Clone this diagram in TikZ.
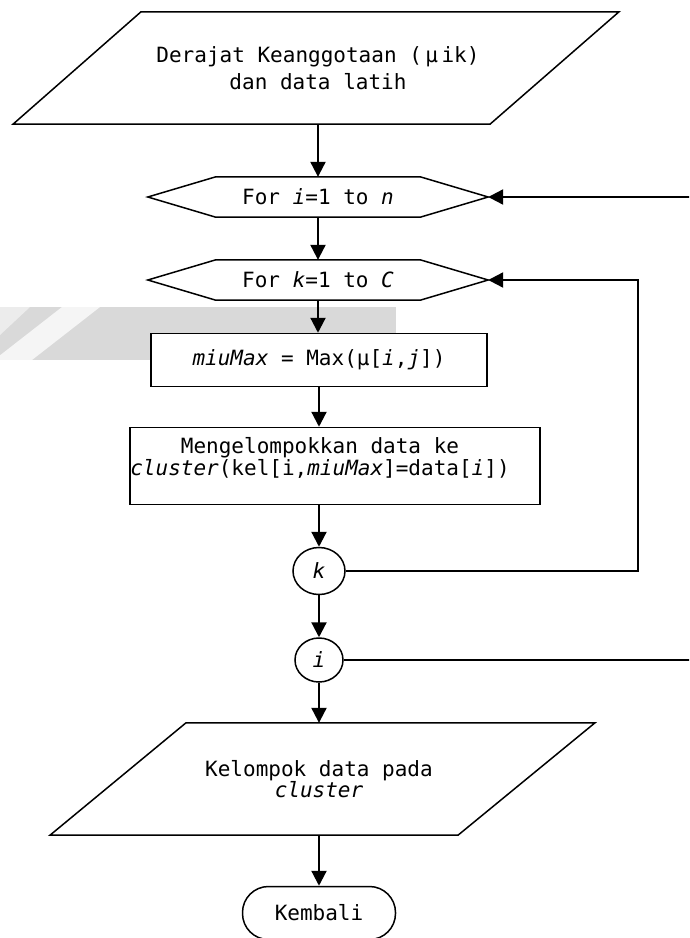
\documentclass[tikz,border=0pt]{standalone}
\usepackage{fontspec}
\setmainfont{DejaVu Sans Mono}
\usetikzlibrary{arrows.meta,calc,shapes.geometric}

\begin{document}
\begin{tikzpicture}[x=1pt,y=-1pt,
  outl/.style={draw=black,line width=1.5pt},
  txt/.style={font=\fontsize{21}{27}\selectfont,align=center,inner sep=0pt},
  tight/.style={font=\fontsize{21}{20}\selectfont,align=center,inner sep=0pt},
  conn/.style={line width=2.2pt,-{Triangle[length=15pt,width=15pt]}}
]
\useasboundingbox (0,0) rectangle (689,938);
\clip (0,0) rectangle (689,938);

% light grey band behind the first process box
\fill[black!15] (0,307) rectangle (396,360);
\fill[white,opacity=0.75] (62,307) -- (100,307) -- (32,360) -- (-6,360) -- cycle;
\fill[white,opacity=0.5] (0,307) -- (30,307) -- (0,335) -- cycle;

% input: membership degrees and training data
\node[txt,minimum height=112pt,minimum width=300pt] (p1) at (318,68)
  {Derajat Keanggotaan (\,μ\,ik)\\dan data latih};
\draw[outl] ($(p1.north)+(-177,0)$) -- ($(p1.north)+(301,0)$)
  -- ($(p1.south)+(172,0)$) -- ($(p1.south)+(-305,0)$) -- cycle;

% outer loop over i
\node[txt,minimum width=204pt,minimum height=40pt] (h1) at (318,197)
  {For \textit{i}=1 to \textit{n}};
\coordinate (h1tip) at ($(h1.east)+(68,0)$);
\draw[outl] (h1.north west) -- (h1.north east) -- (h1tip) -- (h1.south east)
  -- (h1.south west) -- ($(h1.west)+(-68,0)$) -- cycle;

% inner loop over k
\node[txt,minimum width=204pt,minimum height=40pt] (h2) at (318,280)
  {For \textit{k}=1 to \textit{C}};
\coordinate (h2tip) at ($(h2.east)+(68,0)$);
\draw[outl] (h2.north west) -- (h2.north east) -- (h2tip) -- (h2.south east)
  -- (h2.south west) -- ($(h2.west)+(-68,0)$) -- cycle;

% process boxes
\node[outl,fill=white,txt,minimum width=336pt,minimum height=53pt] (b1) at (319,360)
  {\textit{miuMax} = Max(μ[\textit{i},\textit{j}])};
\node[outl,fill=white,minimum width=410pt,minimum height=77pt] (b2) at (335,466) {};
\node[tight] (b2t) at (320,458)
  {Mengelompokkan data ke\\\textit{cluster}(kel[i,\textit{miuMax}]=data[\textit{i}])};

% loop connectors
\node[outl,ellipse,txt,minimum width=52pt,minimum height=47pt] (ck) at (319,571) {\textit{k}};
\node[outl,ellipse,txt,minimum width=48pt,minimum height=44pt] (ci) at (319,660) {\textit{i}};

% output: clustered data
\node[tight,minimum height=112pt,minimum width=300pt] (p2) at (319,779)
  {Kelompok data pada\\\textit{cluster}};
\draw[outl] ($(p2.north)+(-133,0)$) -- ($(p2.north)+(276,0)$)
  -- ($(p2.south)+(139,0)$) -- ($(p2.south)+(-269,0)$) -- cycle;

% terminator
\node[outl,txt,rounded corners=26pt,minimum width=153pt,minimum height=53pt] (ret) at (319,913) {Kembali};

% main flow
\draw[conn] (p1.south) -- (p1.south |- h1.north);
\draw[conn] (h1.south) -- (h2.north);
\draw[conn] (h2.south) -- (h2.south |- b1.north);
\draw[conn] (b1.south) -- (b1.south |- b2.north);
\draw[conn] (ck.north |- b2.south) -- (ck.north);
\draw[conn] (ck.south) -- (ci.north);
\draw[conn] (ci.south) -- (ci.south |- p2.north);
\draw[conn] (p2.south) -- (ret.north);

% loop-back lines
\coordinate (kturn) at (638,0);
\coordinate (iturn) at (700,0);
\draw[conn] (ck.east) -| (kturn |- h2tip) -- (h2tip);
\draw[conn] (ci.east) -| (iturn |- h1tip) -- (h1tip);
\end{tikzpicture}
\end{document}
